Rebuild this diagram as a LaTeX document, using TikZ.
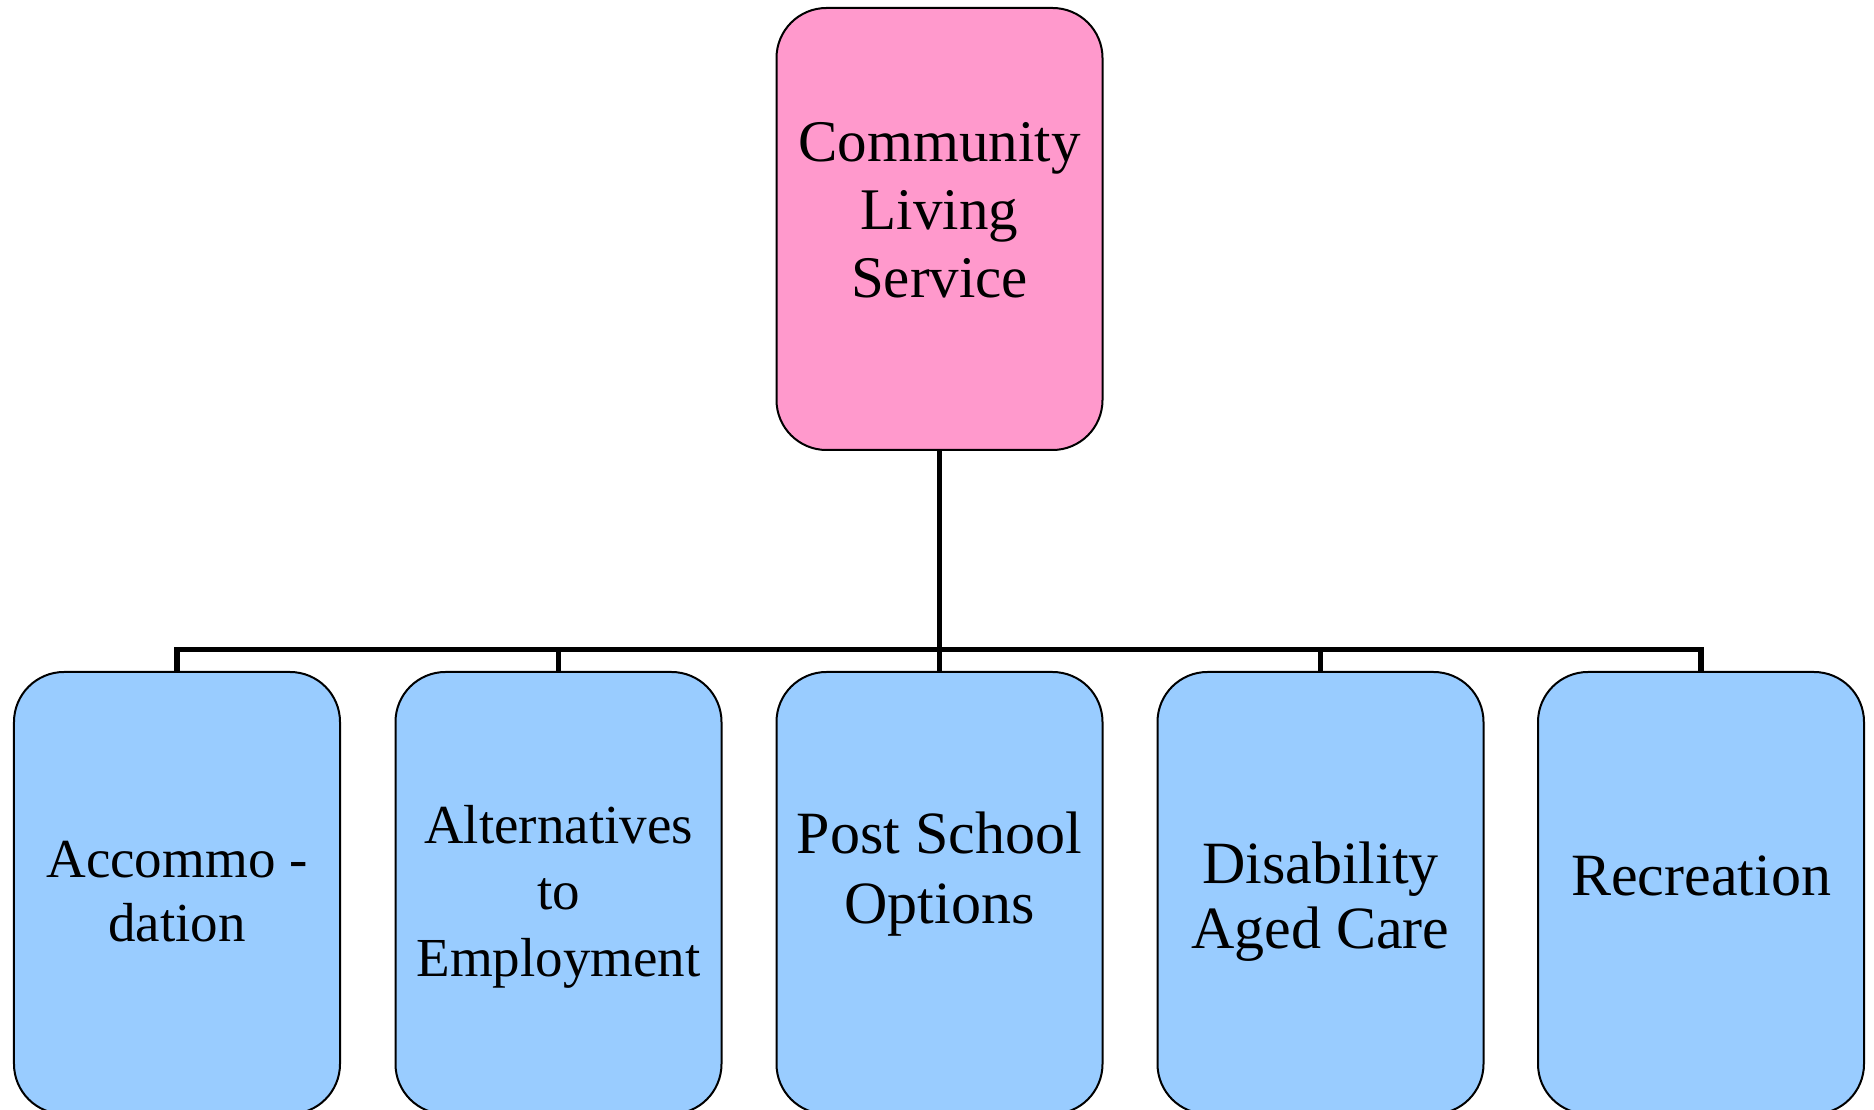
\documentclass[tikz,border=0pt]{standalone}
\usepackage{fontspec}
\setmainfont{Liberation Serif}
\definecolor{pinkbox}{HTML}{FF99CC}
\definecolor{bluebox}{HTML}{99CCFF}
\begin{document}
\begin{tikzpicture}[x=0.4pt,y=-0.4pt,
  box/.style={draw=black,line width=0.8pt,rounded corners=20pt,minimum width=130.4pt,minimum height=176.8pt,inner sep=0pt},
  topbox/.style={box,fill=pinkbox},
  subbox/.style={box,fill=bluebox},
  lbl/.style={align=center,inner sep=0pt,anchor=base,text=black},
  conn/.style={line width=2.3pt,line join=miter}]
\useasboundingbox (0,0) rectangle (1874,1110);
\coordinate (bus) at (939.5,649.5);
\node[topbox] (top) at (939.5,229) {};
\node[subbox] (b1) at (177,893) {};
\node[subbox] (b2) at (558.5,893) {};
\node[subbox] (b3) at (939.5,893) {};
\node[subbox] (b4) at (1320.5,893) {};
\node[subbox] (b5) at (1701,893) {};
\draw[conn] (top.south) -- (bus);
\draw[conn] (b1.north) -- (b1.north |- bus) -- (b5.north |- bus) -- (b5.north);
\draw[conn] (b2.north) -- (b2.north |- bus);
\draw[conn] (b3.north) -- (b3.north |- bus);
\draw[conn] (b4.north) -- (b4.north |- bus);
% labels (anchored at the baseline of their last line)
\node[lbl,font=\fontsize{23.6}{27.2}\selectfont] (ttop) at (939.5,298) {Community\\Living\\Service};
\node[lbl,font=\fontsize{22}{25.6}\selectfont] (t1) at (177,942) {Accommo -\\dation};
\node[lbl,font=\fontsize{22}{26.6}\selectfont] (t2) at (558.5,976) {Alternatives\\to\\Employment};
\node[lbl,font=\fontsize{24}{28}\selectfont] (t3) at (939.5,923) {Post School\\Options};
\node[lbl,font=\fontsize{24}{26.4}\selectfont] (t4) at (1320.5,949) {Disability\\Aged Care};
\node[lbl,font=\fontsize{24}{28}\selectfont] (t5) at (1701,895) {Recreation};
\end{tikzpicture}
\end{document}
